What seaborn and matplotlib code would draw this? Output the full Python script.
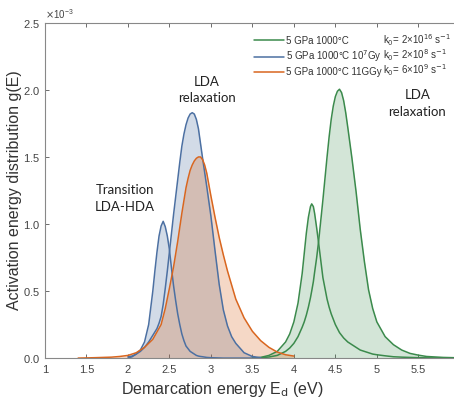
import numpy as np
import seaborn as sns
import matplotlib.pyplot as plt

# energies (eV) and g(E) values (x1e-3)
blue_x = [2.00, 2.05, 2.10, 2.15, 2.20, 2.25, 2.30, 2.325, 2.35, 2.375, 2.40, 2.425,
          2.45, 2.475, 2.50, 2.525, 2.55, 2.575, 2.60, 2.625, 2.65, 2.675, 2.70, 2.725,
          2.75, 2.775, 2.80, 2.825, 2.85, 2.875, 2.90, 2.95, 3.00, 3.05, 3.10, 3.15,
          3.20, 3.25, 3.30, 3.40, 3.50, 3.60]
blue_trans = [0.00, 0.01, 0.03, 0.06, 0.12, 0.25, 0.50, 0.65, 0.79, 0.91, 0.985, 1.02,
              0.98, 0.91, 0.81, 0.67, 0.54, 0.43, 0.33, 0.25, 0.18, 0.13, 0.09, 0.07,
              0.05, 0.04, 0.03, 0.02, 0.015, 0.012, 0.01, 0.005, 0.003, 0.002, 0.001, 0,
              0, 0, 0, 0, 0, 0]
blue_relax = [0.01, 0.015, 0.03, 0.05, 0.08, 0.12, 0.17, 0.195, 0.22, 0.26, 0.31, 0.40,
              0.52, 0.65, 0.79, 0.93, 1.07, 1.20, 1.33, 1.46, 1.58, 1.67, 1.74, 1.79,
              1.82, 1.83, 1.82, 1.78, 1.71, 1.60, 1.49, 1.28, 1.06, 0.80, 0.55, 0.36,
              0.24, 0.16, 0.11, 0.04, 0.012, 0.003]

orange_x = [1.40, 1.60, 1.80, 1.90, 2.00, 2.10, 2.20, 2.30, 2.40, 2.45, 2.50, 2.55,
            2.60, 2.65, 2.70, 2.725, 2.75, 2.775, 2.80, 2.825, 2.85, 2.875, 2.90, 2.925,
            2.95, 3.00, 3.05, 3.10, 3.15, 3.20, 3.30, 3.40, 3.50, 3.60, 3.70, 3.80,
            3.90, 4.00]
orange_y = [0.0, 0.003, 0.007, 0.012, 0.02, 0.04, 0.08, 0.14, 0.25, 0.37, 0.52, 0.68,
            0.87, 1.08, 1.27, 1.34, 1.40, 1.44, 1.47, 1.49, 1.50, 1.50, 1.48, 1.44,
            1.38, 1.21, 1.05, 0.90, 0.77, 0.65, 0.44, 0.30, 0.20, 0.13, 0.08, 0.045,
            0.025, 0.015]

green_x = [3.50, 3.60, 3.70, 3.80, 3.90, 3.95, 4.00, 4.05, 4.10, 4.125, 4.15, 4.175,
           4.20, 4.215, 4.235, 4.25, 4.275, 4.30, 4.35, 4.40, 4.425, 4.45, 4.475, 4.50,
           4.525, 4.55, 4.575, 4.60, 4.625, 4.65, 4.70, 4.75, 4.80, 4.85, 4.90, 4.95,
           5.00, 5.10, 5.20, 5.30, 5.40, 5.50, 5.60, 5.80, 5.93]
green_trans = [0.0, 0.005, 0.02, 0.05, 0.12, 0.18, 0.27, 0.41, 0.63, 0.78, 0.93, 1.05,
               1.13, 1.15, 1.13, 1.08, 0.97, 0.85, 0.60, 0.44, 0.38, 0.33, 0.29, 0.25,
               0.22, 0.19, 0.17, 0.15, 0.135, 0.12, 0.10, 0.08, 0.06, 0.05, 0.04, 0.03,
               0.025, 0.017, 0.01, 0.007, 0.005, 0.003, 0.002, 0.001, 0.0]
green_relax = [0.0, 0.003, 0.008, 0.02, 0.05, 0.075, 0.11, 0.16, 0.23, 0.27, 0.32, 0.38,
               0.45, 0.50, 0.57, 0.64, 0.75, 0.88, 1.18, 1.50, 1.65, 1.78, 1.88, 1.95,
               1.99, 2.005, 1.98, 1.92, 1.83, 1.72, 1.49, 1.24, 0.96, 0.72, 0.51, 0.37,
               0.27, 0.16, 0.10, 0.06, 0.035, 0.022, 0.012, 0.005, 0.003]

labels = ["5 GPa 1000°C", "5 GPa 1000°C 10$^7$Gy", "5 GPa 1000°C 11GGy"]
k0_labels = ["k$_0$= 2×10$^{16}$ s$^{-1}$", "k$_0$= 2×10$^{8}$ s$^{-1}$",
             "k$_0$= 6×10$^{9}$ s$^{-1}$"]
k0_y = [2.37e-3, 2.26e-3, 2.15e-3]

c_green = "#3b8a4c"
c_blue = "#4c70a2"
c_orange = "#d9661f"

sns.set_style("ticks")
plt.rcParams["font.family"] = ["Liberation Sans", "DejaVu Sans"]

fig = plt.figure(figsize=(4.54, 4.01), dpi=100)
ax = fig.add_axes([0.099, 0.107, 0.901, 0.836])

sc = 1e-3
bx = np.array(blue_x)
gx = np.array(green_x)
ox = np.array(orange_x)
bt, br = np.array(blue_trans) * sc, np.array(blue_relax) * sc
gt, gr = np.array(green_trans) * sc, np.array(green_relax) * sc
oy = np.array(orange_y) * sc

ax.fill_between(gx, np.maximum(gt, gr), color=c_green, alpha=0.22, lw=0)
ax.fill_between(bx, np.maximum(bt, br), color=c_blue, alpha=0.25, lw=0)
ax.fill_between(ox, oy, color=c_orange, alpha=0.25, lw=0)

lw = 1.1
sns.lineplot(x=gx, y=gr, color=c_green, lw=lw, ax=ax, label=labels[0])
sns.lineplot(x=gx, y=gt, color=c_green, lw=lw, ax=ax)
sns.lineplot(x=bx, y=br, color=c_blue, lw=lw, ax=ax, label=labels[1])
sns.lineplot(x=bx, y=bt, color=c_blue, lw=lw, ax=ax)
sns.lineplot(x=ox, y=oy, color=c_orange, lw=lw, ax=ax, label=labels[2])

ax.set_xlim(1, 5.93)
ax.set_ylim(0, 2.5e-3)
ax.set_xticks([1, 1.5, 2, 2.5, 3, 3.5, 4, 4.5, 5, 5.5])
ax.set_xticklabels(["1", "1.5", "2", "2.5", "3", "3.5", "4", "4.5", "5", "5.5"])
ax.ticklabel_format(axis="y", style="sci", scilimits=(-3, -3), useMathText=True)
ax.yaxis.get_offset_text().set_fontsize(7)
ax.yaxis.get_offset_text().set_color("#555555")

ax.tick_params(direction="in", top=True, length=3, labelsize=8, colors="#555555",
               labelcolor="#444444", width=0.6)
ax.tick_params(axis="x", pad=5)
for s in ["left", "bottom", "top"]:
    ax.spines[s].set_color("#888888")
    ax.spines[s].set_linewidth(0.8)
ax.spines["right"].set_visible(False)

ax.set_xlabel("Demarcation energy E$_\\mathrm{d}$ (eV)", fontsize=11.5, color="#333333")
ax.xaxis.set_label_coords(0.433, -0.066)
ax.set_ylabel("Activation energy distribution g(E)", fontsize=11.5, color="#333333",
              labelpad=1)

leg = ax.legend(loc="upper left", bbox_to_anchor=(0.512, 0.962), frameon=False,
                fontsize=7, handlelength=3.0, handletextpad=0.3, labelspacing=0.3,
                borderaxespad=0, borderpad=0)
for t in leg.get_texts():
    t.set_color("#333333")

for yy, txt in zip(k0_y, k0_labels):
    ax.text(5.07, yy, txt, fontsize=7, color="#333333", va="center", ha="left")

ann_font = ["Lato", "DejaVu Sans"]
ax.text(1.96, 1.19e-3, "Transition\nLDA-HDA", ha="center", va="center", fontsize=9.5,
        color="#222222", family=ann_font, linespacing=1.45)
ax.text(2.95, 2.0e-3, "LDA\nrelaxation", ha="center", va="center", fontsize=9.5,
        color="#222222", family=ann_font, linespacing=1.45)
ax.text(5.49, 1.9e-3, "LDA\nrelaxation", ha="center", va="center", fontsize=9.5,
        color="#222222", family=ann_font, linespacing=1.45)

fig.savefig("out.png", dpi=100)
